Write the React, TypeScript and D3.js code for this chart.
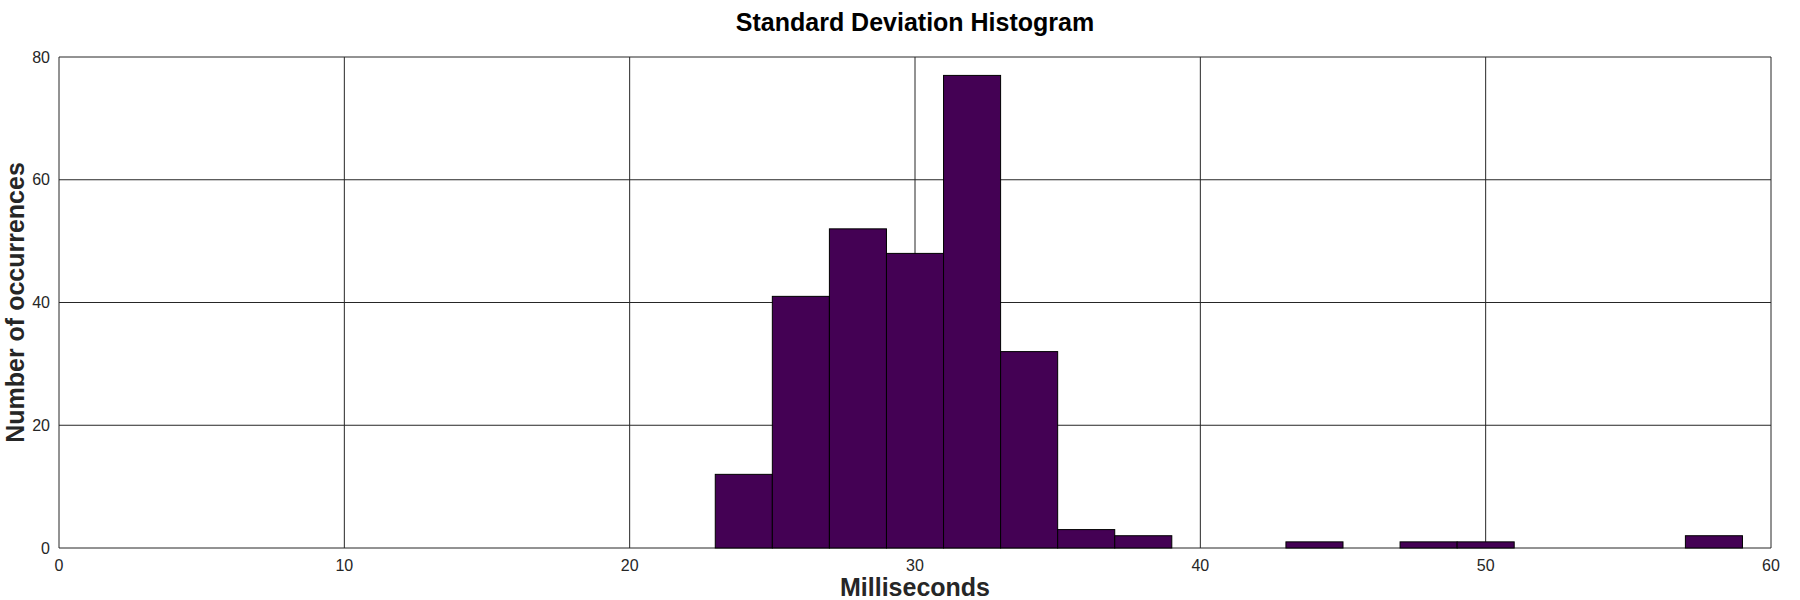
import * as React from 'react'
import * as d3 from 'd3'

// histogram bins (ms), width 2
const binStarts = [23, 25, 27, 29, 31, 33, 35, 37, 39, 41, 43, 45, 47, 49, 51, 53, 55, 57]
const binCounts = [12, 41, 52, 48, 77, 32, 3, 2, 0, 0, 1, 0, 1, 1, 0, 0, 0, 2]
const binWidth = 2
const xTicks = [0, 10, 20, 30, 40, 50, 60]
const yTicks = [0, 20, 40, 60, 80]

const W = 1800
const H = 600
const margin = { top: 57, right: 29, bottom: 52, left: 59 }
const font = 'Liberation Sans, Arial, Helvetica, sans-serif'

export default function App() {
  const svgRef = React.useRef<SVGSVGElement>(null)

  React.useEffect(() => {
    if (!svgRef.current) return
    const svg = d3.select(svgRef.current)
    svg.selectAll('*').remove()

    const x = d3.scaleLinear().domain([0, 60]).range([margin.left, W - margin.right])
    const y = d3.scaleLinear().domain([0, 80]).range([H - margin.bottom, margin.top])

    svg.append('rect').attr('width', W).attr('height', H).attr('fill', '#fff')

    // grid
    const grid = svg.append('g').attr('stroke', '#262626').attr('stroke-width', 1)
    xTicks.forEach((t) => {
      grid.append('line')
        .attr('x1', x(t)).attr('x2', x(t))
        .attr('y1', y(0)).attr('y2', y(80))
    })
    yTicks.forEach((t) => {
      grid.append('line')
        .attr('x1', x(0)).attr('x2', x(60))
        .attr('y1', y(t)).attr('y2', y(t))
    })

    // bars
    const data = binStarts.map((s, i) => ({ s, c: binCounts[i] })).filter((d) => d.c > 0)
    svg.append('g')
      .selectAll('rect')
      .data(data)
      .join('rect')
      .attr('x', (d) => x(d.s))
      .attr('width', (d) => x(d.s + binWidth) - x(d.s))
      .attr('y', (d) => y(d.c))
      .attr('height', (d) => y(0) - y(d.c))
      .attr('fill', '#440154')
      .attr('stroke', '#000')
      .attr('stroke-width', 1)

    // tick labels
    svg.append('g')
      .selectAll('text')
      .data(xTicks)
      .join('text')
      .attr('x', (d) => x(d))
      .attr('y', y(0) + 23)
      .attr('text-anchor', 'middle')
      .attr('font-family', font)
      .attr('font-size', 16)
      .attr('fill', '#262626')
      .text((d) => d)

    svg.append('g')
      .selectAll('text')
      .data(yTicks)
      .join('text')
      .attr('x', x(0) - 9)
      .attr('y', (d) => y(d))
      .attr('dy', '0.35em')
      .attr('text-anchor', 'end')
      .attr('font-family', font)
      .attr('font-size', 16)
      .attr('fill', '#262626')
      .text((d) => d)

    // title + axis labels
    svg.append('text')
      .attr('x', (x(0) + x(60)) / 2)
      .attr('y', 31)
      .attr('text-anchor', 'middle')
      .attr('font-family', font)
      .attr('font-size', 25)
      .attr('font-weight', 'bold')
      .attr('fill', '#000')
      .text('Standard Deviation Histogram')

    svg.append('text')
      .attr('x', (x(0) + x(60)) / 2)
      .attr('y', 596)
      .attr('text-anchor', 'middle')
      .attr('font-family', font)
      .attr('font-size', 25)
      .attr('font-weight', 'bold')
      .attr('fill', '#262626')
      .text('Milliseconds')

    svg.append('text')
      .attr('transform', `translate(24,${(y(0) + y(80)) / 2}) rotate(-90)`)
      .attr('text-anchor', 'middle')
      .attr('font-family', font)
      .attr('font-size', 25)
      .attr('font-weight', 'bold')
      .attr('fill', '#262626')
      .text('Number of occurrences')
  }, [])

  return (
    <svg
      ref={svgRef}
      width={W}
      height={H}
      style={{ display: 'block', position: 'absolute', left: 0, top: 0 }}
    />
  )
}
